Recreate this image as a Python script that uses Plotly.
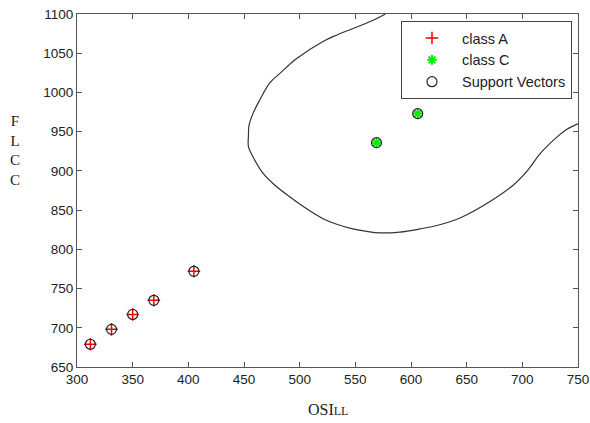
import plotly.graph_objects as go

# Data
class_a_x = [312, 331, 350, 369, 405]
class_a_y = [679, 698, 717, 735, 772]
class_c_x = [569, 606]
class_c_y = [936, 973]
sv_x = class_a_x + class_c_x
sv_y = class_a_y + class_c_y

boundary1_x = [577, 566, 533, 521, 497, 482, 473, 464, 458, 454.5, 454, 454, 458, 467, 476, 491,
               506, 524, 545, 560, 572, 590, 608, 625, 644, 671, 692, 705, 716, 731, 740, 750]
boundary1_y = [1100, 1092, 1073, 1065, 1043, 1024, 1012, 990, 973, 958, 945, 931, 918, 897, 884, 867,
               852, 837, 827, 823, 821, 822, 826, 831, 840, 861, 882, 901, 922, 943, 953, 960]

x_ticks = [300, 350, 400, 450, 500, 550, 600, 650, 700, 750]
y_ticks = [650, 700, 750, 800, 850, 900, 950, 1000, 1050, 1100]

fig = go.Figure()
fig.add_trace(go.Scatter(x=boundary1_x, y=boundary1_y, mode="lines",
                         line=dict(color="#333333", width=1.2, shape="spline"),
                         showlegend=False, hoverinfo="skip"))
fig.add_trace(go.Scatter(x=class_a_x, y=class_a_y, mode="markers", name="class A",
                         marker=dict(symbol="cross-thin-open", size=9, color="red",
                                     line=dict(color="red", width=1.5))))
fig.add_trace(go.Scatter(x=class_c_x, y=class_c_y, mode="markers", name="class C",
                         marker=dict(symbol="asterisk-open", size=8, color="#00ee00",
                                     line=dict(color="#00ee00", width=2))))
fig.add_trace(go.Scatter(x=sv_x, y=sv_y, mode="markers", name="Support Vectors",
                         marker=dict(symbol="circle-open", size=10, color="#222222",
                                     line=dict(color="#222222", width=1.2))))

axis_common = dict(showgrid=False, zeroline=False, showline=True, linecolor="#555555",
                   linewidth=1.2, mirror="ticks", ticks="inside", ticklen=5,
                   tickcolor="#555555", automargin=False,
                   tickfont=dict(family="Liberation Sans, Arial", size=13.5, color="#222222"))

fig.update_xaxes(range=[300, 750], tickvals=x_ticks, **axis_common)
fig.update_yaxes(range=[650, 1100], tickvals=y_ticks, **axis_common)

fig.update_layout(
    width=590, height=423,
    margin=dict(l=77, r=12, t=14, b=56, autoexpand=False),
    plot_bgcolor="white", paper_bgcolor="white",
    legend=dict(x=0.988, xanchor="right", y=0.98, yanchor="top",
                bordercolor="#444444", borderwidth=1, bgcolor="white",
                font=dict(family="Liberation Sans, Arial", size=14.5, color="#222222"),
                itemwidth=50, tracegroupgap=0),
    annotations=[
        dict(text="OSI<span style='font-size:12px'>LL</span>", xref="paper", yref="paper",
             x=0.5, y=-0.119, xanchor="center", yanchor="middle", showarrow=False,
             font=dict(family="Liberation Serif, Times New Roman", size=16, color="#222222")),
        dict(text="F<br>L<br>C<br>C", xref="paper", yref="paper",
             x=-0.124, y=0.612, xanchor="center", yanchor="middle", showarrow=False,
             font=dict(family="Liberation Serif, Times New Roman", size=15, color="#222222")),
    ],
)

fig.write_html("out.html", config={"displayModeBar": False},
               post_script="document.body.style.margin='0';document.body.style.padding='0';")
